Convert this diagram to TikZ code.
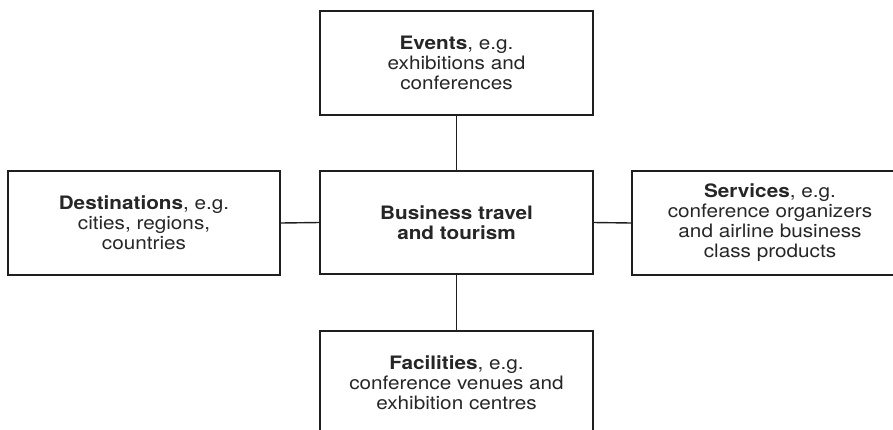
\documentclass[tikz,border=0pt]{standalone}
\usepackage{fontspec}
\setmainfont[FakeStretch=1.12]{TeX Gyre Heros}
\begin{document}
\begin{tikzpicture}[x=1pt,y=-1pt,
  box/.style={draw=black!88, line width=1.4pt, rectangle, align=center,
    minimum width=273pt, minimum height=104pt, inner sep=0pt,
    font=\fontsize{18.5}{20}\selectfont, text=black!85},
  link/.style={draw=black!88, line width=1.4pt}]
\path[use as bounding box, clip] (0,0) rectangle (893,429);
\node[box] (ev) at (456.5,63) {\textbf{Events}, e.g.\\exhibitions and\\conferences};
\node[box, minimum height=103pt] (bt) at (456.5,222.5) {\textbf{Business travel}\\\textbf{and tourism}};
\node[box, minimum width=272pt] (de) at (144,223) {\textbf{Destinations}, e.g.\\cities, regions,\\countries};
\node[box, minimum width=276pt] (se) at (770,223) {\textbf{Services}, e.g.\\conference organizers\\and airline business\\class products};
\node[box] (fa) at (456.5,383) {\textbf{Facilities}, e.g.\\conference venues and\\exhibition centres};
\draw[link] (ev.south) -- (bt.north);
\draw[link] (bt.south) -- (fa.north);
\draw[link] (de.east) -- (bt.west);
\draw[link] (bt.east) -- (se.west);
\end{tikzpicture}
\end{document}
